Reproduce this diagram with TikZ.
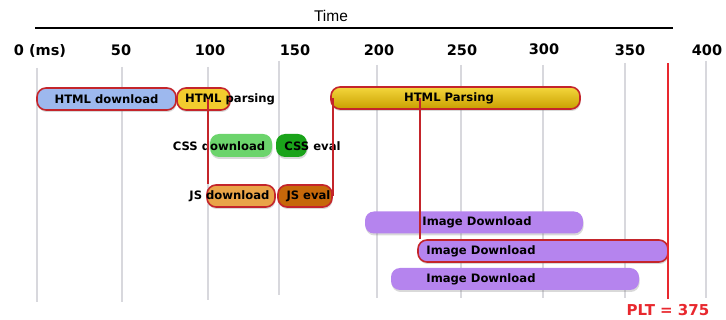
\documentclass[tikz,border=0pt]{standalone}
\usepackage{fontspec}
\setmainfont{DejaVu Sans}
\newfontfamily\timefont{Liberation Sans}
\usetikzlibrary{shadows}

\definecolor{critred}{HTML}{C4252B}
\definecolor{pltred}{HTML}{E8282E}
\definecolor{gridgray}{HTML}{D8D8DD}
\definecolor{dlblue}{HTML}{9DB8EE}
\definecolor{parseyellow}{HTML}{F2CC2E}
\definecolor{parsetop}{HTML}{F4D63C}
\definecolor{parsebot}{HTML}{C9A000}
\definecolor{csslight}{HTML}{6CD46C}
\definecolor{cssdark}{HTML}{1AA31A}
\definecolor{jslight}{HTML}{E9A448}
\definecolor{jsdark}{HTML}{C6680A}
\definecolor{imgpurple}{HTML}{B584EE}

\tikzset{
  phase/.style={rectangle, rounded corners=9pt, minimum height=22pt, inner sep=0pt,
    font=\fontsize{11.6}{13}\selectfont\bfseries,
    drop shadow={shadow xshift=0.6pt, shadow yshift=-2pt, opacity=0.3}},
  critical/.style={draw=critred, line width=1.6pt},
  tag/.style={inner sep=0pt, font=\fontsize{11.6}{13}\selectfont\bfseries},
  tick/.style={inner sep=0pt, font=\fontsize{14.5}{16}\selectfont\bfseries},
  gridline/.style={draw=gridgray, line width=2.5pt},
  link/.style={draw=critred, line width=1.6pt},
}

\begin{document}
\begin{tikzpicture}[x=1pt,y=-1pt]
\useasboundingbox (0,0) rectangle (726,320);

% time axis
\coordinate (axl) at (35,28);
\coordinate (axr) at (673,28);
\draw [line width=1.8pt] (axl) -- (axr);
\node (time) at (331,16) {\timefont\fontsize{15.5}{17}\selectfont Time};

\node [tick] (t0) at (40,50.5) {0 (ms)};
\node [tick] (t50) at (121,50.5) {50};
\node [tick] (t100) at (210,50.5) {100};
\node [tick] (t150) at (295,50.5) {150};
\node [tick] (t200) at (379,50.5) {200};
\node [tick] (t250) at (462,50.5) {250};
\node [tick] (t300) at (544,49.5) {300};
\node [tick] (t350) at (630,50.5) {350};
\node [tick] (t400) at (707,50.5) {400};

\draw [gridline] (37,68) -- (37,302);
\draw [gridline] (122,67) -- (122,302);
\draw [gridline] (208,67) -- (208,300);
\draw [gridline] (279,61) -- (279,295);
\draw [gridline] (377,65) -- (377,298);
\draw [gridline] (461,65) -- (461,298);
\draw [gridline] (543,65) -- (543,298);
\draw [gridline] (625,63) -- (625,298);
\draw [gridline] (706,61) -- (706,298);

% html
\node [phase, critical, fill=dlblue, minimum width=139pt] (htmldl) at (106.5,99) {HTML download};
\node [phase, critical, fill=parseyellow, minimum width=53pt] (hparse) at (203.5,99) {};
\node [tag] (hparsetxt) at (230,99) {HTML parsing};
\node [phase, critical, top color=parsetop, bottom color=parsebot, minimum width=249pt] (hpbig) at (455.5,98) {};
\node [tag] (hpbigtxt) at (449,98) {HTML Parsing};

% css
\node [phase, fill=csslight, minimum width=62pt, minimum height=23pt] (cssdl) at (241,145.5) {};
\node [phase, fill=cssdark, minimum width=31pt, minimum height=23pt] (csseval) at (291.5,145.5) {};
\node [tag] (cssdltxt) at (219,146) {CSS download};
\node [tag] (cssevaltxt) at (312.5,146) {CSS eval};

% js
\node [phase, critical, fill=jslight, minimum width=68pt] (jsdl) at (241,196) {};
\node [phase, critical, fill=jsdark, minimum width=54pt] (jseval) at (305,196) {};
\node [tag] (jsdltxt) at (229.5,196) {JS download};
\node [tag] (jsevaltxt) at (308.5,196) {JS eval};

% images
\node [phase, fill=imgpurple, minimum width=218pt] (img1) at (474,222.5) {};
\node [tag] (img1txt) at (477,222.5) {Image Download};
\node [phase, critical, fill=imgpurple, minimum width=250pt] (img2) at (543,251) {};
\node [tag] (img2txt) at (481,251) {Image Download};
\node [phase, fill=imgpurple, minimum width=248pt] (img3) at (515,279) {};
\node [tag] (img3txt) at (481,279) {Image Download};

% critical path
\draw [link] ([xshift=2pt]jsdl.west |- hparse.center) -- ([xshift=2pt]jsdl.north west);
\draw [link] (jseval.east) -- (jseval.east |- hpbig.west);
\draw [link] ([xshift=3pt]img2.west |- hpbig.center) -- ([xshift=3pt]img2.north west);

% page load time
\node [text=pltred, inner sep=0pt, font=\fontsize{15}{17}\selectfont\bfseries] (plt) at (668,310) {PLT = 375};
\coordinate (plttop) at (668,63);
\draw [draw=pltred, line width=1.5pt] ([yshift=5pt]plt.north) -- (plttop);
\end{tikzpicture}
\end{document}
